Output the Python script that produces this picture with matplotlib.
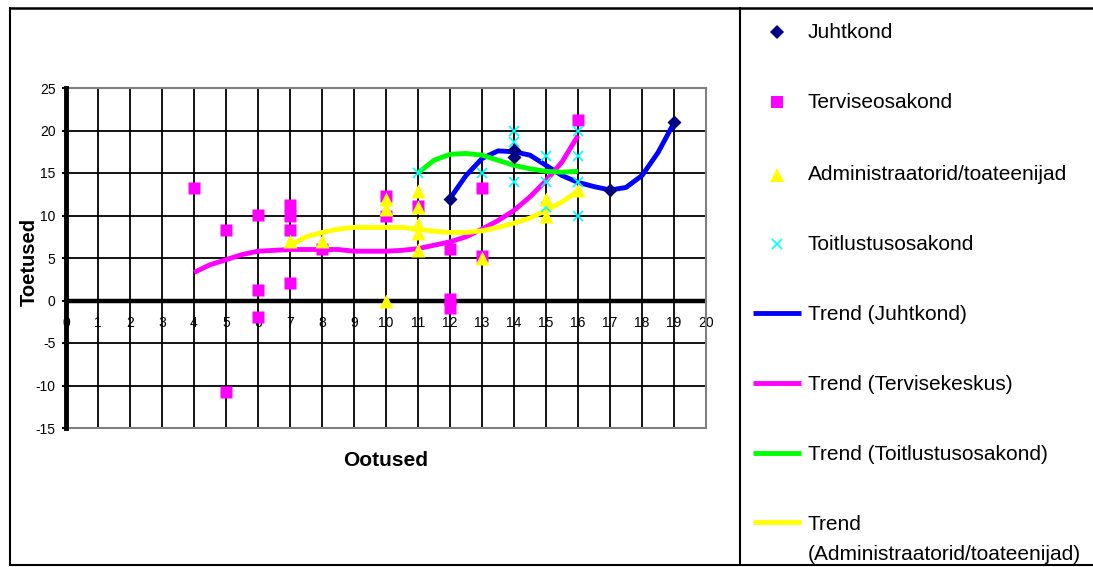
import matplotlib
matplotlib.use("Agg")
import matplotlib.pyplot as plt
from matplotlib.lines import Line2D

plt.rcParams['font.family'] = ['Liberation Sans', 'DejaVu Sans']

W, H = 1093, 567

# andmepunktid
juht_x = [12, 14, 14, 17, 19]
juht_y = [12.0, 17.7, 16.9, 13.0, 21.0]

terv_x = [4, 5, 5, 6, 6, 6, 7, 7, 7, 7, 8, 10, 10, 11, 12, 12, 12, 13, 13, 16]
terv_y = [13.2, 8.3, -10.8, 10.1, 1.2, -1.9, 11.2, 10.0, 8.3, 2.1, 6.1,
          12.3, 10.0, 11.1, 6.1, 0.2, -0.9, 13.2, 5.2, 21.2]

adm_x = [7, 8, 10, 10, 10, 11, 11, 11, 11, 11, 13, 15, 15, 16]
adm_y = [7.0, 7.0, 12.0, 10.8, 0.0, 12.9, 11.0, 9.0, 8.0, 5.9, 5.0, 12.0, 10.0, 13.0]

toit_x = [11, 13, 14, 14, 14, 15, 15, 15, 16, 16, 16, 16]
toit_y = [15, 15, 20, 18.6, 14, 17, 14, 11, 20, 17, 14, 10]

# trendijooned (loetud iga poole ühiku tagant)
tr_juht_x = [12, 12.5, 13, 13.5, 14, 14.5, 15, 15.5, 16, 16.5, 17, 17.5, 18, 18.5, 19]
tr_juht_y = [12.0, 14.7, 16.7, 17.6, 17.5, 17.1, 15.9, 14.7, 13.9, 13.4, 13.0, 13.3, 14.7, 17.4, 20.9]

tr_terv_x = [4, 4.5, 5, 5.5, 6, 6.5, 7, 7.5, 8, 8.5, 9, 9.5, 10, 10.5, 11,
             11.5, 12, 12.5, 13, 13.5, 14, 14.5, 15, 15.5, 16]
tr_terv_y = [3.3, 4.2, 4.8, 5.4, 5.8, 5.9, 6.0, 6.0, 6.0, 6.0, 5.8, 5.8, 5.8, 5.9, 6.1,
             6.5, 6.9, 7.5, 8.4, 9.4, 10.6, 12.2, 14.1, 16.3, 19.4]

tr_toit_x = [11, 11.5, 12, 12.5, 13, 13.5, 14, 14.5, 15, 15.5, 16]
tr_toit_y = [15.0, 16.5, 17.2, 17.3, 17.1, 16.5, 15.9, 15.5, 15.2, 15.1, 15.2]

tr_adm_x = [7, 7.5, 8, 8.5, 9, 9.5, 10, 10.5, 11, 11.5, 12, 12.5, 13, 13.5, 14,
            14.5, 15, 15.5, 16]
tr_adm_y = [6.5, 7.5, 8.0, 8.4, 8.6, 8.6, 8.6, 8.6, 8.4, 8.15, 8.0, 8.0, 8.2, 8.6, 9.1,
            9.7, 10.6, 11.6, 12.9]

x_ticks = list(range(0, 21))
y_ticks = list(range(-15, 26, 5))


def fx(px):
    return px / W


def fy(py):
    return 1 - py / H


fig = plt.figure(figsize=(W / 100, H / 100), dpi=100)
ax = fig.add_axes([fx(66), fy(428), 640 / W, 340 / H])
ax.set_xlim(0, 20)
ax.set_ylim(-15, 25)

# ruudustik
for x in x_ticks[1:-1]:
    ax.axvline(x, color='black', lw=1.3, zorder=1)
for y in y_ticks[1:-1]:
    if y != 0:
        ax.axhline(y, color='black', lw=1.3, zorder=1)
ax.axhline(0, color='black', lw=3.2, zorder=2)

for s in ['top', 'right', 'bottom']:
    ax.spines[s].set_color('#808080')
    ax.spines[s].set_linewidth(1.5)
ax.spines['left'].set_color('black')
ax.spines['left'].set_linewidth(3.5)
ax.spines['left'].set_zorder(4)

ax.set_xticks(x_ticks)
ax.tick_params(axis='x', length=0, labelbottom=False)
ax.set_yticks(y_ticks)
ax.set_yticklabels([str(v) for v in y_ticks])
ax.tick_params(axis='y', length=3, width=1.5, pad=4.5, labelsize=10)

for x in x_ticks:
    ax.annotate(str(x), (x, 0), xytext=(0, -16), textcoords='offset points',
                ha='center', va='center', fontsize=10, zorder=1)

# trendid
ax.plot(tr_juht_x, tr_juht_y, color='#0000FF', lw=3.5, zorder=3, solid_capstyle='butt')
ax.plot(tr_terv_x, tr_terv_y, color='#FF00FF', lw=3.5, zorder=3, solid_capstyle='butt')
ax.plot(tr_toit_x, tr_toit_y, color='#00FF00', lw=3.5, zorder=3, solid_capstyle='butt')
ax.plot(tr_adm_x, tr_adm_y, color='#FFFF00', lw=3.5, zorder=3, solid_capstyle='butt')

# punktid
ax.plot(terv_x, terv_y, 's', color='#FF00FF', ms=8, mec='none', zorder=5)
ax.plot(toit_x, toit_y, 'x', color='#00FFFF', ms=7, mew=1.2, zorder=5)
ax.plot(adm_x, adm_y, '^', color='#FFFF00', ms=10.5, mec='none', zorder=5)
ax.plot(juht_x, juht_y, 'D', color='#000080', ms=7.5, mec='none', zorder=6)

fig.text(fx(386), fy(461), 'Ootused', ha='center', va='center',
         fontsize=15, fontweight='bold')
fig.text(fx(29), fy(262), 'Toetused', ha='center', va='center',
         fontsize=14.5, fontweight='bold', rotation=90)

# raam ja legendi paneel
fig.add_artist(Line2D([fx(10), 1], [fy(8), fy(8)], color='black', lw=1.8))
fig.add_artist(Line2D([fx(10), 1], [fy(565), fy(565)], color='black', lw=1.5))
fig.add_artist(Line2D([fx(10), fx(10)], [fy(8), fy(565)], color='black', lw=1.5))
fig.add_artist(Line2D([fx(740), fx(740)], [fy(8), fy(565)], color='black', lw=1.5))

leg_markers = [
    ('Juhtkond', 'D', '#000080', 7.5, 32),
    ('Terviseosakond', 's', '#FF00FF', 8.5, 102),
    ('Administraatorid/toateenijad', '^', '#FFFF00', 10.5, 175),
    ('Toitlustusosakond', 'x', '#00FFFF', 7, 244),
]
for label, m, c, ms, py in leg_markers:
    mec = c if m == 'x' else 'none'
    fig.add_artist(Line2D([fx(777)], [fy(py)], marker=m, color=c, ms=ms,
                          mec=mec, mew=1.2, linestyle='none'))
    fig.text(fx(808), fy(py), label, ha='left', va='center', fontsize=15)

leg_lines = [
    (['Trend (Juhtkond)'], '#0000FF', 313),
    (['Trend (Tervisekeskus)'], '#FF00FF', 383),
    (['Trend (Toitlustusosakond)'], '#00FF00', 453),
    (['Trend', '(Administraatorid/toateenijad)'], '#FFFF00', 522),
]
for rows, c, py in leg_lines:
    fig.add_artist(Line2D([fx(753), fx(801)], [fy(py), fy(py)], color=c, lw=3.5,
                          solid_capstyle='butt'))
    for i, row in enumerate(rows):
        fig.text(fx(808), fy(py + 2 + 30 * i), row, ha='left', va='center',
                 fontsize=15)

fig.savefig('out.png', dpi=100)
